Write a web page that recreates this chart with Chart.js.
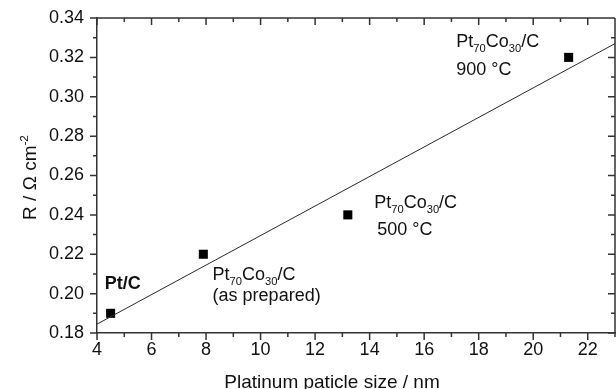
<!DOCTYPE html>
<html>
<head>
<meta charset="utf-8">
<script src="https://cdn.jsdelivr.net/npm/chart.js@4.4.0/dist/chart.umd.min.js"></script>
<style>
  body { margin: 0; background: #fff; }
  canvas { display: block; }
</style>
</head>
<body>
<canvas id="chart" width="616" height="389"></canvas>
<script>
// measured points: particle size (nm) vs resistance
const sizes = [4.5, 7.9, 13.2, 21.3];
const resist = [0.19, 0.22, 0.24, 0.32];
const fitX = [4, 23];
const fitY = [0.1845, 0.327];
// labelled ticks
const xTicks = [4, 6, 8, 10, 12, 14, 16, 18, 20, 22];
const yTicks = [0.18, 0.20, 0.22, 0.24, 0.26, 0.28, 0.30, 0.32, 0.34];

const FONT = '"Liberation Sans", Arial, sans-serif';
const INK = "#333";

// text runs: [text, kind] where kind is n (normal), sub, sup, b (bold)
const ptco = [["Pt","n"],["70","sub"],["Co","n"],["30","sub"],["/C","n"]];
const notes = [
    {x: 4.28, y: 0.2024, runs: [["Pt/C","b"]]},
    {x: 8.24, y: 0.2070, runs: ptco},
    {x: 8.24, y: 0.1963, runs: [["(as prepared)","n"]]},
    {x: 14.17, y: 0.2436, runs: ptco},
    {x: 14.28, y: 0.2299, runs: [["500 °C","n"]]},
    {x: 17.18, y: 0.3255, runs: ptco},
    {x: 17.18, y: 0.3113, runs: [["900 °C","n"]]}
];

function drawRuns(ctx, runs, x, y, size) {
    runs.forEach(([t, kind]) => {
        let fs = size, dy = 0, weight = "";
        if (kind === "sub") { fs = size * 0.62; dy = 5; }
        if (kind === "sup") { fs = size * 0.62; dy = -8; }
        if (kind === "b") weight = "bold ";
        ctx.font = weight + fs + "px " + FONT;
        ctx.fillText(t, x, y + dy);
        x += ctx.measureText(t).width;
    });
}

function runsWidth(ctx, runs, size) {
    let w = 0;
    runs.forEach(([t, kind]) => {
        let fs = (kind === "sub" || kind === "sup") ? size * 0.62 : size;
        ctx.font = (kind === "b" ? "bold " : "") + fs + "px " + FONT;
        w += ctx.measureText(t).width;
    });
    return w;
}

const framePlugin = {
    id: "frame",
    afterDraw(chart) {
        const ctx = chart.ctx;
        const a = chart.chartArea;
        const xs = chart.scales.x, ys = chart.scales.y;
        ctx.save();
        ctx.strokeStyle = INK;
        ctx.lineWidth = 1.5;
        ctx.beginPath();
        ctx.moveTo(a.left, a.top); ctx.lineTo(a.right, a.top);
        ctx.moveTo(a.right, a.top); ctx.lineTo(a.right, a.bottom);
        // minor + major ticks, out on bottom/left, in on top/right
        for (let v = 4; v <= 23; v++) {
            const px = xs.getPixelForValue(v);
            const len = v % 2 === 0 ? 7 : 4;
            ctx.moveTo(px, a.bottom); ctx.lineTo(px, a.bottom + len);
            ctx.moveTo(px, a.top); ctx.lineTo(px, a.top + len);
        }
        for (let i = 0; i <= 16; i++) {
            const py = ys.getPixelForValue(0.18 + i * 0.01);
            const len = i % 2 === 0 ? 7 : 4;
            ctx.moveTo(a.left - len, py); ctx.lineTo(a.left, py);
            ctx.moveTo(a.right - len, py); ctx.lineTo(a.right, py);
        }
        ctx.stroke();

        ctx.fillStyle = "#111";
        ctx.textBaseline = "alphabetic";
        ctx.textAlign = "left";
        notes.forEach(n => {
            drawRuns(ctx, n.runs, xs.getPixelForValue(n.x), ys.getPixelForValue(n.y), 18);
        });

        // axis titles
        const xt = [["Platinum paticle size / nm","n"]];
        drawRuns(ctx, xt, 332 - runsWidth(ctx, xt, 19) / 2, 388, 19);
        const yt = [["R / Ω cm","n"],["-2","sup"]];
        ctx.translate(36, (a.top + a.bottom) / 2 + 2);
        ctx.rotate(-Math.PI / 2);
        drawRuns(ctx, yt, -runsWidth(ctx, yt, 19) / 2, 0, 19);
        ctx.restore();
    }
};

new Chart(document.getElementById("chart"), {
    type: "scatter",
    data: {
        datasets: [
            {
                label: "fit",
                data: fitX.map((x, i) => ({x: x, y: fitY[i]})),
                showLine: true,
                borderColor: "#2a2a2a",
                borderWidth: 1,
                pointRadius: 0
            },
            {
                label: "R",
                data: sizes.map((x, i) => ({x: x, y: resist[i]})),
                pointStyle: "rect",
                pointRadius: 6.4,
                pointHoverRadius: 6.4,
                backgroundColor: "#000",
                borderColor: "#000",
                borderWidth: 0
            }
        ]
    },
    options: {
        responsive: false,
        animation: false,
        layout: { autoPadding: false, padding: { top: 18, right: 1, left: 0, bottom: 0 } },
        plugins: { legend: { display: false }, tooltip: { enabled: false } },
        scales: {
            x: {
                type: "linear",
                min: 4, max: 23,
                afterFit: s => { s.height = 56; s.paddingLeft = 0; s.paddingRight = 0; },
                afterBuildTicks: s => { s.ticks = xTicks.map(v => ({value: v})); },
                grid: { display: false, drawTicks: false },
                border: { display: true, color: INK, width: 1.5 },
                ticks: {
                    autoSkip: false, maxRotation: 0,
                    padding: 6, color: "#111",
                    font: { family: FONT, size: 18 }
                }
            },
            y: {
                min: 0.18, max: 0.34,
                afterFit: s => { s.width = 97; s.paddingTop = 0; s.paddingBottom = 0; },
                afterBuildTicks: s => { s.ticks = yTicks.map(v => ({value: v})); },
                grid: { display: false, drawTicks: false },
                border: { display: true, color: INK, width: 1.5 },
                ticks: {
                    padding: 13, color: "#111",
                    font: { family: FONT, size: 18 },
                    callback: v => Number(v).toFixed(2)
                }
            }
        }
    },
    plugins: [framePlugin]
});
</script>
</body>
</html>
